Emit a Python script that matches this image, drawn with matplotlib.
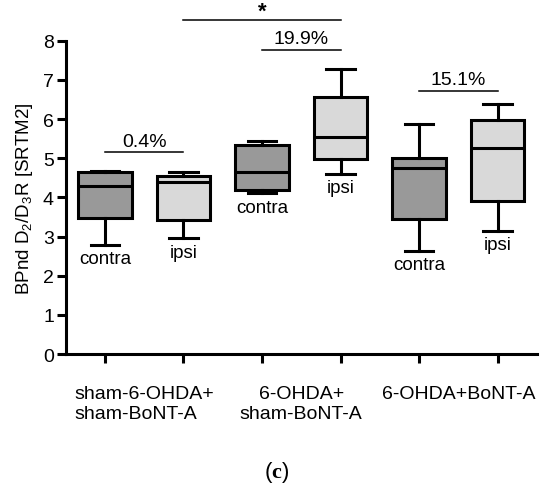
import matplotlib
matplotlib.use("Agg")
from matplotlib import pyplot as plt

plt.rcParams['font.family'] = ['Liberation Sans', 'DejaVu Sans']
plt.rcParams['mathtext.fontset'] = 'custom'
plt.rcParams['mathtext.rm'] = 'Liberation Sans'
plt.rcParams['mathtext.bf'] = 'Liberation Serif:bold'

# box plot values, order: contra/ipsi per group
sides = ["contra", "ipsi", "contra", "ipsi", "contra", "ipsi"]
whis_lo = [2.79, 2.96, 4.11, 4.60, 2.64, 3.15]
q1 = [3.47, 3.43, 4.20, 4.98, 3.45, 3.90]
med = [4.28, 4.40, 4.65, 5.55, 4.74, 5.25]
q3 = [4.64, 4.54, 5.34, 6.55, 5.00, 5.98]
whis_hi = [4.68, 4.66, 5.45, 7.28, 5.87, 6.38]
groups = ["sham-6-OHDA+\nsham-BoNT-A", "6-OHDA+\nsham-BoNT-A", "6-OHDA+BoNT-A"]
# percent brackets: (left box, right box, y, text)
brackets = [(1, 2, 5.15, "0.4%"), (3, 4, 7.76, "19.9%"), (5, 6, 6.72, "15.1%")]
star = (2, 4, 8.54, "*")

colors = {"contra": "#999999", "ipsi": "#d9d9d9"}
lw = 2.2

fig = plt.figure(figsize=(5.5, 4.89), dpi=100)
ax = fig.add_axes([0.1195, 0.274, 0.8565, 0.6407])

stats = []
for i in range(len(sides)):
    stats.append({"whislo": whis_lo[i], "q1": q1[i], "med": med[i],
                  "q3": q3[i], "whishi": whis_hi[i], "fliers": []})
pos = list(range(1, len(sides) + 1))
bp = ax.bxp(stats, positions=pos, widths=0.68, patch_artist=True,
            showfliers=False,
            boxprops=dict(linewidth=lw, edgecolor="black"),
            medianprops=dict(linewidth=lw, color="black"),
            whiskerprops=dict(linewidth=lw, color="black"),
            capprops=dict(linewidth=lw, color="black"),
            capwidths=0.36)
for patch, s in zip(bp["boxes"], sides):
    patch.set_facecolor(colors[s])

# contra / ipsi labels under each box
for i, s in enumerate(sides):
    ax.annotate(s, (pos[i], whis_lo[i]), xytext=(0, -4), textcoords="offset points",
                ha="center", va="top", fontsize=13.5)

# brackets
for a, b, y, t in brackets:
    ax.plot([a, b], [y, y], color="black", lw=1.1, clip_on=False)
    ax.text((a + b) / 2, y + 0.07, t, ha="center", va="bottom", fontsize=14)
a, b, y, t = star
ax.plot([a, b], [y, y], color="black", lw=1.1, clip_on=False)
ax.text((a + b) / 2, y - 0.05, t, ha="center", va="bottom", fontsize=16, fontweight="bold")

ax.set_xlim(0.5, 6.5)
ax.set_ylim(0, 8)
ax.set_yticks(range(0, 9))
ax.set_xticks(pos)
ax.set_xticklabels([])
ax.spines["top"].set_visible(False)
ax.spines["right"].set_visible(False)
for sp in ["left", "bottom"]:
    ax.spines[sp].set_linewidth(lw)
ax.tick_params(axis="both", width=lw, length=6.5, labelsize=14, pad=2)
ax.set_ylabel(r"BPnd D$_2$/D$_3$R [SRTM2]", fontsize=13.5, labelpad=6)

for k, g in enumerate(groups):
    ax.text(2 * k + 1.5, -0.78, g, ha="center", va="top", fontsize=14,
            multialignment="left" if k == 0 else "center", linespacing=1.25)

fig.text(0.503, 0.033, r"$\mathrm{(}\mathbf{c}\mathrm{)}$", ha="center", va="center",
         fontsize=16, family="Liberation Serif")

fig.savefig("out.png", dpi=100, facecolor="white")
